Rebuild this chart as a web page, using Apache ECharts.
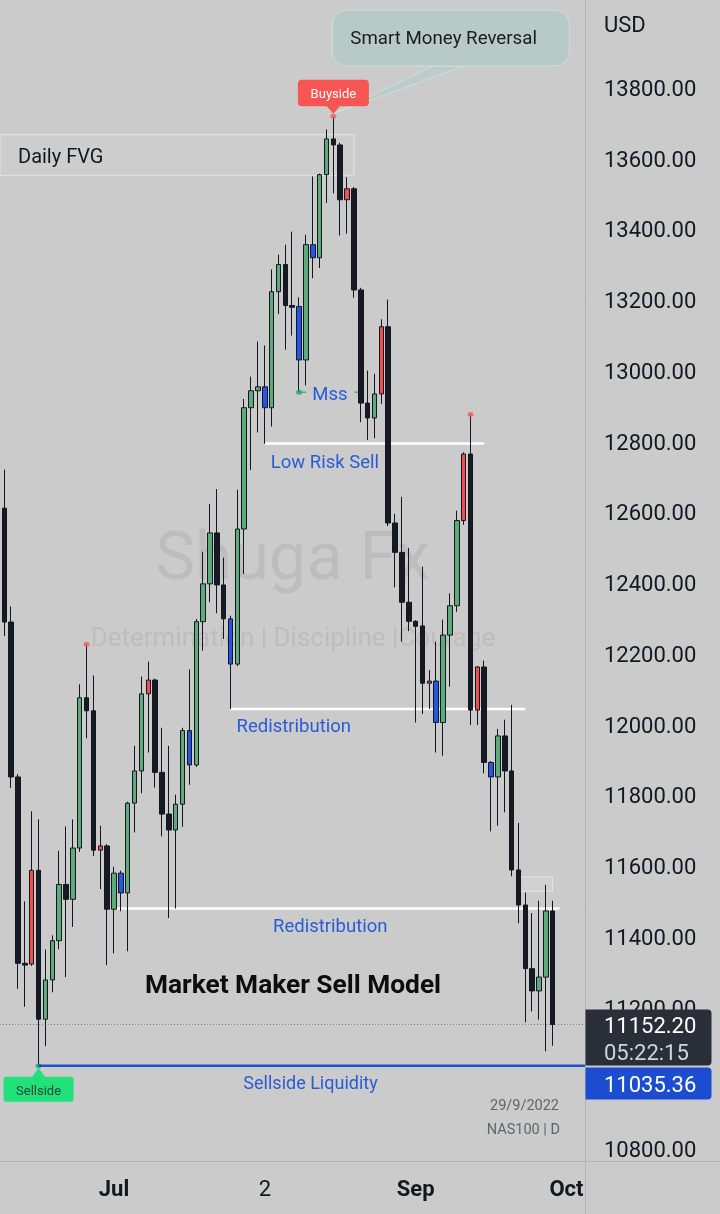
<!DOCTYPE html>
<html><head><meta charset="utf-8">
<script src="https://cdn.jsdelivr.net/npm/echarts@6/dist/echarts.min.js"></script>
<style>html,body{margin:0;padding:0;background:#cbcbcb}#c{width:720px;height:1214px}</style>
</head><body><div id="c"></div><script>
// ---------- DATA ----------
const dates = [
'2022-06-09','2022-06-10','2022-06-13','2022-06-14','2022-06-15','2022-06-16','2022-06-17','2022-06-20','2022-06-21','2022-06-22','2022-06-23','2022-06-24','2022-06-27','2022-06-28','2022-06-29','2022-06-30',
'2022-07-01','2022-07-04','2022-07-05','2022-07-06','2022-07-07','2022-07-08','2022-07-11','2022-07-12','2022-07-13','2022-07-14','2022-07-15','2022-07-18','2022-07-19','2022-07-20','2022-07-21','2022-07-22','2022-07-25','2022-07-26','2022-07-27','2022-07-28','2022-07-29',
'2022-08-01','2022-08-02','2022-08-03','2022-08-04','2022-08-05','2022-08-08','2022-08-09','2022-08-10','2022-08-11','2022-08-12','2022-08-15','2022-08-16','2022-08-17','2022-08-18','2022-08-19','2022-08-22','2022-08-23','2022-08-24','2022-08-25','2022-08-26','2022-08-29','2022-08-30','2022-08-31',
'2022-09-01','2022-09-02','2022-09-05','2022-09-06','2022-09-07','2022-09-08','2022-09-09','2022-09-12','2022-09-13','2022-09-14','2022-09-15','2022-09-16','2022-09-19','2022-09-20','2022-09-21','2022-09-22','2022-09-23','2022-09-26','2022-09-27','2022-09-28','2022-09-29','2022-09-30',
'2022-10-03','2022-10-04','2022-10-05'];
const open = [12612,12290,11852,11325,11323,11588,11167,11278,11389,11548,
11506,11651,12076,12039,11645,11657,11478,11580,11524,11778,
11869,12087,12126,11865,11747,11702,11775,11983,11886,12291,
12398,12542,12395,12299,12171,12553,12896,12944,12955,12896,
13224,13301,13185,13182,13031,13357,13320,13555,13656,13639,
13484,13515,13229,12909,12867,12935,13125,12570,12487,12346,
12292,12279,12117,12123,12006,12253,12336,12577,12765,12041,
12163,11893,11852,11968,11869,11589,11490,11310,11247,11286,
11473];
const high = [12721,12334,11860,11500,11755,11732,11364,11404,11643,11712,
11732,12114,12227,12139,11714,11662,11598,11587,11782,11940,
12136,12178,12130,11991,11940,11802,11991,12156,12299,12489,
12624,12666,12472,12308,12664,12921,12984,13083,13072,13287,
13329,13357,13394,13208,13385,13550,13558,13683,13720,13645,
13548,13520,13235,13001,12992,13146,13202,12596,12644,12500,
12295,12447,12154,12235,12297,12371,12605,12770,12877,12165,
12181,11897,11988,12014,12056,11722,11525,11467,11502,11547,
11502];
const low = [12250,11821,11253,11202,11318,11035.36,11091,11243,11365,11286,
11428,11640,11961,11628,11535,11320,11353,11472,11359,11695,
11806,11921,11822,11684,11453,11480,11711,11830,11880,12209,
12346,12315,12242,12044,12165,12426,12720,12826,12794,12843,
13161,13060,13100,12940,12959,13262,13291,13475,13502,13383,
13388,13207,12855,12805,12810,12907,12561,12388,12235,12264,
12006,12030,12044,11921,11912,12107,12319,12565,11999,11999,
11862,11698,11714,11752,11571,11438,11158,11189,11166,11076,
11092];
const close = [12290,11852,11325,11320,11588,11167,11278,11389,11548,11506,
11651,12076,12039,11645,11657,11478,11580,11524,11778,11869,
12087,12126,11865,11747,11702,11775,11983,11886,12291,12398,
12542,12395,12299,12171,12553,12896,12944,12955,12896,13224,
13301,13185,13180,13031,13357,13320,13555,13656,13639,13484,
13515,13229,12909,12867,12935,13125,12570,12487,12346,12292,
12278,12117,12123,12006,12253,12336,12577,12765,12041,12163,
11893,11852,11968,11869,11589,11490,11310,11247,11286,11473,
11152.2];
// bars painted with the indicator's alternate colour
const accentBars = [4,14,17,21,27,33,38,43,45,50,55,62,63,67,69,71];
const pivotHighBars = [12,48,68];
const pivotLowBars = [5,43];
const tickLabels = {'2022-07-01':'Jul','2022-08-02':'2','2022-09-01':'Sep','2022-10-03':'Oct'};
const boldTickLabels = ['Jul','Sep','Oct'];
const priceMin = 10800, priceMax = 14000, priceStep = 200;
const lastPrice = 11152.20, lastCountdown = '05:22:15';
const sellsideLiquidity = 11035.36;
const dailyFvg = [13668, 13553];       // top, bottom
const smallFvg = [11569, 11529];
const lowRiskSell = 12795;
const redistributionHigh = 12044;
const redistributionLow = 11480;
const mssLevel = 12940;
const symbolText = 'NAS100 | D', dateText = '29/9/2022';

// ---------- CHART ----------
const FONT = 'Roboto, "Noto Sans", sans-serif';
const BLUE_TXT = '#2a5bd7';
const TY = 2.5; // text baseline nudge
const chart = echarts.init(document.getElementById('c'), null, {renderer:'canvas', width:720, height:1214});
const accentSet = new Set(accentBars);
const candleData = open.map((o,i)=>{
  const up = close[i] >= o;
  const fill = accentSet.has(i) ? (up ? '#f44d4d' : '#2258e6') : (up ? '#5dab7b' : '#161a24');
  return {value:[o, close[i], low[i], high[i]],
    itemStyle:{color:fill, color0:fill, borderColor:'#14171f', borderColor0:'#14171f'}};
});

const option = {
  backgroundColor:'#cbcbcb',
  animation:false,
  grid:{left:0.875, right:136.4, top:17.27, bottom:65, containLabel:false, outerBoundsMode:'none'},
  xAxis:{type:'category', data:dates, boundaryGap:true,
    axisLine:{show:false}, axisTick:{show:false}, splitLine:{show:false},
    axisLabel:{
      interval:(i,v)=>tickLabels[v]!==undefined,
      formatter:(v)=>{const t=tickLabels[v]; if(t===undefined) return ''; return boldTickLabels.includes(t)?'{b|'+t+'}':'{n|'+t+'}';},
      margin:41, verticalAlign:'middle', hideOverlap:false,
      rich:{b:{fontFamily:FONT,fontWeight:'bold',fontSize:22,color:'#131722'},
            n:{fontFamily:FONT,fontWeight:'normal',fontSize:22,color:'#131722'}}
    }},
  yAxis:{type:'value', position:'right', min:priceMin, max:priceMax, interval:priceStep,
    axisLine:{show:false}, axisTick:{show:false}, splitLine:{show:false},
    axisLabel:{margin:20.4, hideOverlap:false,
      formatter:v=> v>13800 ? '' : '{p|'+v.toFixed(2)+'}',
      rich:{p:{fontFamily:FONT, fontSize:22, color:'#131722', padding:[5,0,0,0]}}}},
  series:[
    {type:'candlestick', data:candleData, barWidth:5, z:3,
      itemStyle:{borderWidth:1}},
    {type:'scatter', symbolSize:[6,5], z:4, itemStyle:{color:'#f25c5c'},
      data:pivotHighBars.map(i=>[i, high[i]])},
    {type:'scatter', symbolSize:[6,5], z:4, itemStyle:{color:'#1aa86a'},
      data:pivotLowBars.map(i=>[i, low[i]])}
  ]
};
chart.setOption(option);

// ---------- ANNOTATIONS (positioned through the chart's own scales) ----------
const px = (i,v)=>chart.convertToPixel({xAxisIndex:0,yAxisIndex:0},[i,v]);
const AX = 585.5;
const Y = v=>px(0,v)[1];
const X = i=>px(i,priceMin)[0];
const txt = (text,x,y,o)=>({type:'text', x, y:y+TY, z:10,
  style:Object.assign({text, fontFamily:FONT, fontSize:18.5, fill:'#131722',
    align:'left', verticalAlign:'middle', textAlign:'left', textVerticalAlign:'middle'}, o||{})});
const line = (x1,y1,x2,y2,stroke,lw,z,dash)=>({type:'line', z:z||1, shape:{x1,y1,x2,y2},
  style:{stroke, lineWidth:lw||1, lineDash:dash||null}});
const g = [];

// watermark
g.push(Object.assign(txt('Shuga Fx',292.5,560,{fontSize:67,fill:'#bdbdbd',align:'center',textAlign:'center'}),{z:0}));
g.push(Object.assign(txt('Determination | Discipline |Courage',293,637,{fontSize:26,fill:'#bdbdbd',align:'center',textAlign:'center'}),{z:0}));

// panes separators
g.push(line(AX,0,AX,1214,'#b4b4b4',1,15));
g.push(line(0,1161.5,720,1161.5,'#b4b4b4',1,15));
g.push(txt('USD',604,24,{fontSize:22}));

// Daily FVG
{
  const yt=Y(dailyFvg[0]), yb=Y(dailyFvg[1]), xr=X(51);
  g.push({type:'rect', z:1, shape:{x:0,y:yt,width:xr,height:yb-yt}, style:{fill:'rgba(255,255,255,0.05)',stroke:'#e4e4e4',lineWidth:1}});
  g.push(txt('Daily FVG',18,(yt+yb)/2,{fontSize:20}));
}
// small FVG
{
  const yt=Y(smallFvg[0]), yb=Y(smallFvg[1]), xl=X(75)+2, xr=X(80);
  g.push({type:'rect', z:1, shape:{x:xl,y:yt,width:xr-xl,height:yb-yt}, style:{fill:'rgba(255,255,255,0.12)',stroke:'#e6e6e6',lineWidth:1}});
}
// level lines (drawn behind candles)
{
  const y1=Y(lowRiskSell), a=X(38), b=X(70);
  g.push(line(a,y1,b,y1,'#ffffff',2.5,1));
  g.push(txt('Low Risk Sell',a+6,y1+17.5,{fill:BLUE_TXT}));
  const y2=Y(redistributionHigh), c=X(33), d=X(76);
  g.push(line(c,y2,d,y2,'#ffffff',2.5,1));
  g.push(txt('Redistribution',c+6,y2+16,{fill:BLUE_TXT}));
  const y3=Y(redistributionLow), e=X(16), f=X(81);
  g.push(line(e,y3,f,y3,'#ffffff',2.5,1));
  g.push(txt('Redistribution',(e+f)/2-6.5,y3+16,{fill:BLUE_TXT,align:'center',textAlign:'center'}));
}
// MSS
{
  const mx=X(43), my=Y(mssLevel), xr=X(52);
  g.push(line(mx,my,mx+7,my,'#1a9a6c',1,2));
  g.push(line(xr-6,my,xr,my,'#1a9a6c',1,2));
  g.push(txt('Mss',(mx+xr)/2,my+1,{fill:BLUE_TXT,align:'center',textAlign:'center'}));
}
// last price dotted line
{
  const y=Y(lastPrice);
  g.push(line(0,y,AX,y,'#7c7c7c',1,1,[1,2]));
}
// Sellside liquidity
{
  const sx=X(5), sy=Y(sellsideLiquidity);
  g.push(line(sx,sy,AX,sy,'#1d4fd6',2.5,6));
  g.push(txt('Sellside Liquidity',(sx+AX)/2-1.5,sy+16.5,{fontSize:18,fill:BLUE_TXT,align:'center',textAlign:'center'}));
  // Sellside label
  g.push({type:'polygon', z:8, shape:{points:[[sx-7,sy+12],[sx+7,sy+12],[sx,sy+2]]}, style:{fill:'#22e07a'}});
  g.push({type:'rect', z:8, shape:{x:sx-35,y:sy+11,width:70,height:25,r:3}, style:{fill:'#22e07a'}});
  g.push(Object.assign(txt('Sellside',sx,sy+23.5,{fontSize:13,fill:'#1f4634',align:'center',textAlign:'center'}),{z:9}));
}
// Buyside + Smart Money Reversal callout
{
  const tx=X(48), ty=Y(high[48]);
  g.push({type:'polygon', z:7, shape:{points:[[tx+100,66],[tx+131,66],[tx+1,ty-3]]},
    style:{fill:'rgba(178,205,200,0.55)',stroke:'rgba(205,225,221,0.9)',lineWidth:1}});
  g.push({type:'rect', z:8, shape:{x:tx-1,y:10,width:237,height:56,r:14}, style:{fill:'#b7cac6',stroke:'#d2dedb',lineWidth:1}});
  g.push(Object.assign(txt('Smart Money Reversal',tx+17,37,{fontSize:18.7,fill:'#1c1c1c'}),{z:9}));
  g.push({type:'polygon', z:8, shape:{points:[[tx-7,ty-10.5],[tx+7,ty-10.5],[tx,ty-2.5]]}, style:{fill:'#f75454'}});
  g.push({type:'rect', z:8, shape:{x:tx-35.5,y:ty-36.5,width:71,height:26.5,r:4}, style:{fill:'#f75454'}});
  g.push(Object.assign(txt('Buyside',tx,ty-24,{fontSize:13,fill:'#ffffff',align:'center',textAlign:'center'}),{z:9}));
}
// title
g.push(txt('Market Maker Sell Model',293,984,{fontSize:26.3,fontWeight:'bold',fill:'#0d0d0d',align:'center',textAlign:'center'}));
// symbol / date
g.push(txt(dateText,559,1104,{fontSize:14.5,fill:'#60646c',align:'right',textAlign:'right'}));
g.push(txt(symbolText,560,1128,{fontSize:14.5,fill:'#60646c',align:'right',textAlign:'right'}));
// price scale labels
{
  const ly=Y(lastPrice);
  g.push({type:'rect', z:20, shape:{x:AX,y:ly-15,width:126,height:56,r:[0,4,4,0]}, style:{fill:'#2a2e39'}});
  g.push(Object.assign(txt(lastPrice.toFixed(2),604,ly+1,{fontSize:22,fill:'#ffffff'}),{z:21}));
  g.push(Object.assign(txt(lastCountdown,604,ly+27.5,{fontSize:22,fill:'#d1d4dc'}),{z:21}));
  g.push({type:'rect', z:20, shape:{x:AX,y:ly+43,width:126,height:32,r:[0,4,4,0]}, style:{fill:'#1c4cd0'}});
  g.push(Object.assign(txt(sellsideLiquidity.toFixed(2),604,ly+59.5,{fontSize:22,fill:'#ffffff'}),{z:21}));
}
chart.setOption({graphic:{elements:g}});
</script></body></html>
